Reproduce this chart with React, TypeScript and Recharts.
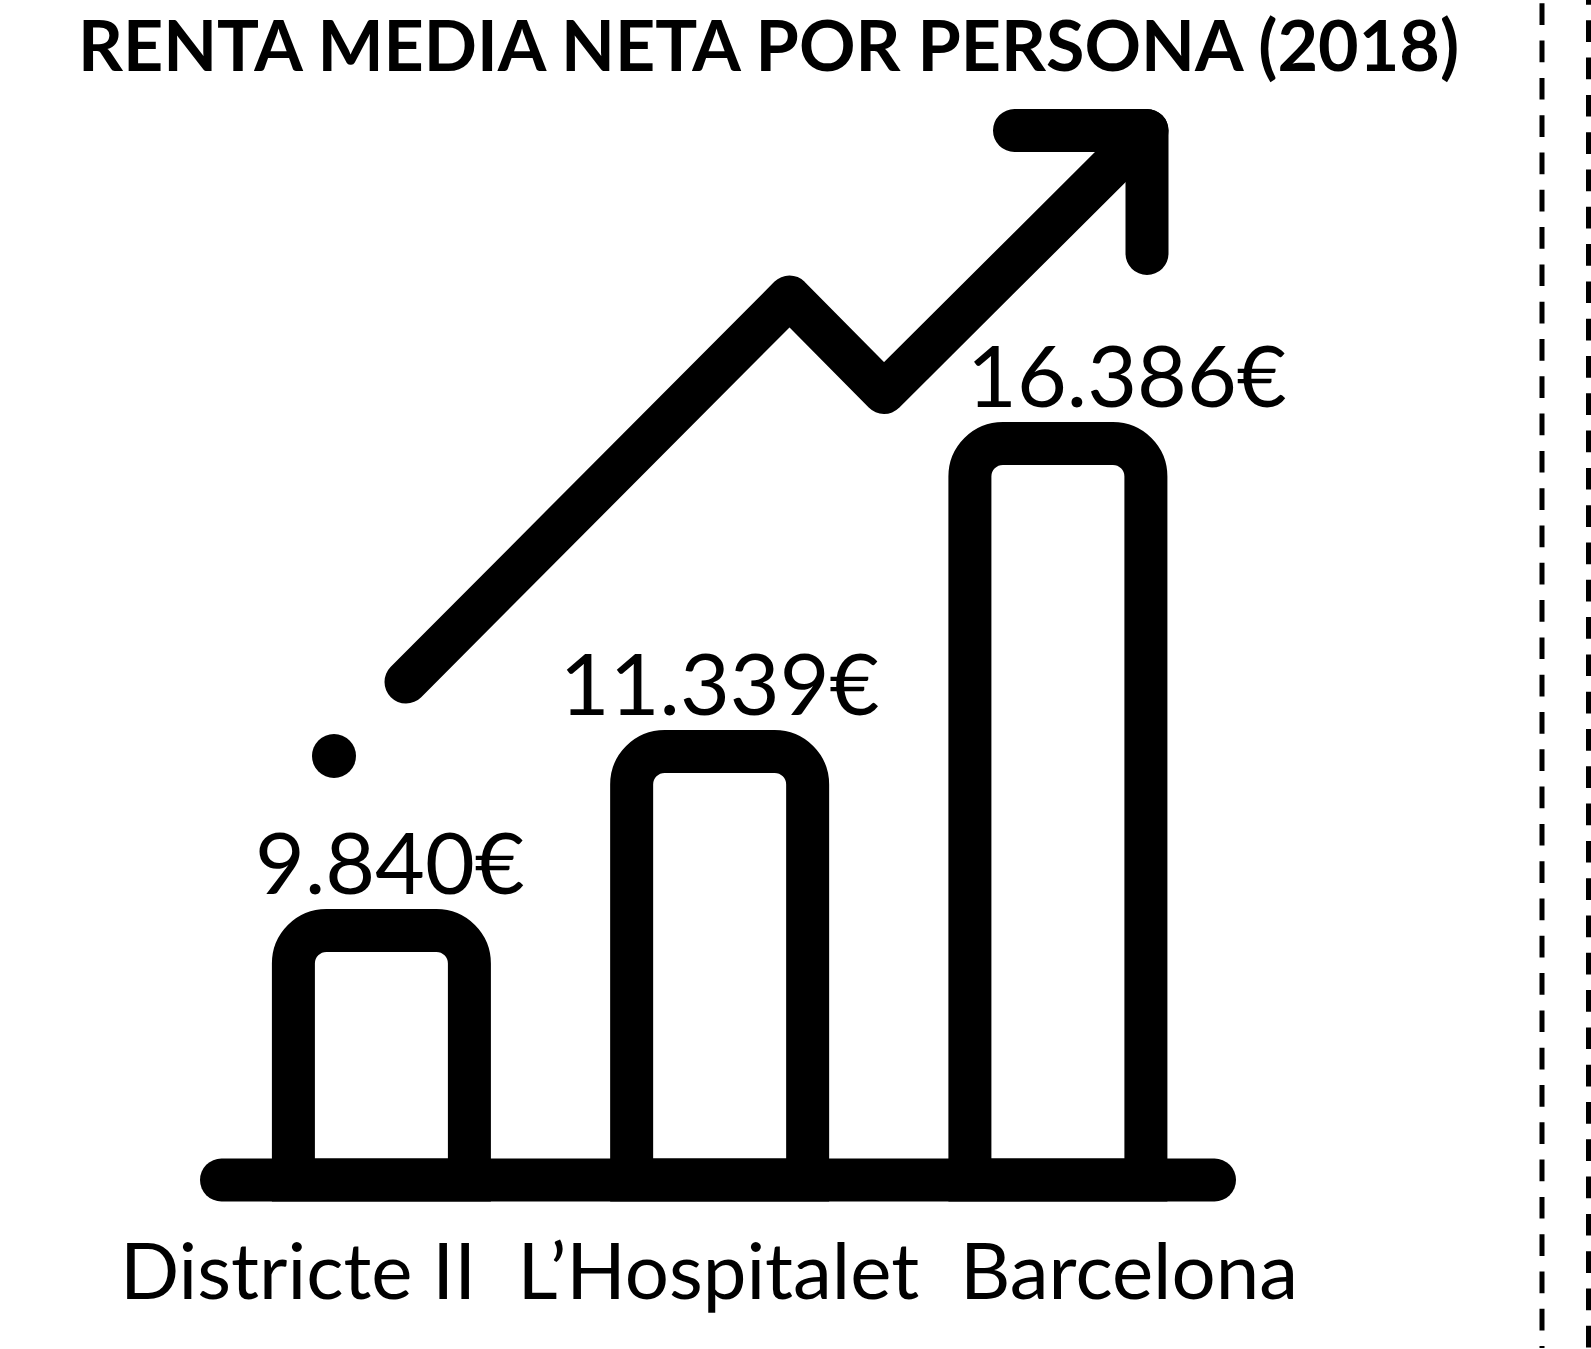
import { Bar, ComposedChart, LabelList, Line, XAxis, YAxis } from "recharts";

// The icon in the picture is not drawn to scale, so bar heights are read off the picture
// (units above the baseline) and the euro figures are only labels.
const CATEGORIES = ["Districte II", "L’Hospitalet", "Barcelona"];
const BAR_HEIGHTS = [249.5, 428.5, 736.5];
const VALUE_LABELS = ["9.840€", "11.339€", "16.386€"];
const TITLE = "RENTA MEDIA NETA POR PERSONA (2018)";

const ARROW_X = [406, 789.5, 884, 1147];
const ARROW_Y = [498, 883, 787.5, 1049.5];
const HEAD_X = [1014.5, 1147, 1147];
const HEAD_Y = [1049.5, 1049.5, 926.5];
const BASE_X = [221.5, 1214.5];
const BASE_Y = [0, 0];
const DOT_X = [334];
const DOT_Y = [424];
const DASH_A_X = [1542, 1542];
const DASH_A_Y = [1176.7, -168];
const DASH_B_X = [1588.5, 1588.5];
const DASH_B_Y = [1180, -168];

const WIDTH = 1591;
const HEIGHT = 1349;
const FONT = "Lato, sans-serif";
const LABEL_SHIFT = [8.5, 0, 69];
const TICK_SHIFT = [-83.5, -1.5, 71];

const points = (xs: number[], ys: number[]) => xs.map((x, i) => ({ x, y: ys[i] }));
const barData = CATEGORIES.map((name, i) => ({ name, height: BAR_HEIGHTS[i] }));

function ValueLabel({ x, y, width, index }: any) {
  return (
    <text
      x={x + width / 2 + LABEL_SHIFT[index]}
      y={y - 37}
      textAnchor="middle"
      fontFamily={FONT}
      fontSize={86}
      fill="#000"
    >
      {VALUE_LABELS[index]}
    </text>
  );
}

function CategoryTick({ x, index, payload }: any) {
  return (
    <text
      x={x + TICK_SHIFT[index]}
      y={1299}
      textAnchor="middle"
      fontFamily={FONT}
      fontSize={78}
      fill="#000"
    >
      {payload.value}
    </text>
  );
}

export default function App() {
  const solid = { stroke: "#000", strokeWidth: 43, strokeLinecap: "round", strokeLinejoin: "round" } as const;
  return (
    <div style={{ position: "absolute", left: 0, top: 0, width: WIDTH, height: HEIGHT, background: "#fff", overflow: "hidden" }}>
      <ComposedChart
        width={WIDTH}
        height={HEIGHT}
        data={barData}
        margin={{ top: 0, right: 0, bottom: 0, left: 0 }}
      >
        <XAxis
          xAxisId="cat"
          dataKey="name"
          height={1}
          padding={{ left: 212.4, right: 363.85 }}
          axisLine={false}
          tickLine={false}
          interval={0}
          tick={<CategoryTick />}
        />
        <XAxis xAxisId="num" type="number" dataKey="x" domain={[0, WIDTH]} hide allowDuplicatedCategory />
        <YAxis domain={[-168, 1180]} hide />
        <text x={768.5} y={71} textAnchor="middle" fontFamily={FONT} fontWeight={700} fontSize={70} fill="#000">
          {TITLE}
        </text>
        <Bar
          xAxisId="cat"
          dataKey="height"
          barSize={176}
          fill="#fff"
          stroke="#000"
          strokeWidth={43}
          radius={[33, 33, 0, 0]}
          isAnimationActive={false}
        >
          <LabelList dataKey="height" content={<ValueLabel />} />
        </Bar>
        <Line xAxisId="num" data={points(BASE_X, BASE_Y)} dataKey="y" dot={false} activeDot={false} isAnimationActive={false} {...solid} />
        <Line xAxisId="num" data={points(ARROW_X, ARROW_Y)} dataKey="y" dot={false} activeDot={false} isAnimationActive={false} {...solid} />
        <Line xAxisId="num" data={points(HEAD_X, HEAD_Y)} dataKey="y" dot={false} activeDot={false} isAnimationActive={false} {...solid} />
        <Line
          xAxisId="num"
          data={points(DOT_X, DOT_Y)}
          dataKey="y"
          stroke="none"
          dot={{ r: 22, fill: "#000", stroke: "none" }}
          activeDot={false}
          isAnimationActive={false}
        />
        <Line
          xAxisId="num"
          data={points(DASH_A_X, DASH_A_Y)}
          dataKey="y"
          dot={false}
          activeDot={false}
          stroke="#000"
          strokeWidth={5}
          strokeDasharray="21.7 15.6"
          isAnimationActive={false}
        />
        <Line
          xAxisId="num"
          data={points(DASH_B_X, DASH_B_Y)}
          dataKey="y"
          dot={false}
          activeDot={false}
          stroke="#000"
          strokeWidth={5}
          strokeDasharray="21.7 15.6"
          strokeDashoffset={17}
          isAnimationActive={false}
        />
      </ComposedChart>
    </div>
  );
}
